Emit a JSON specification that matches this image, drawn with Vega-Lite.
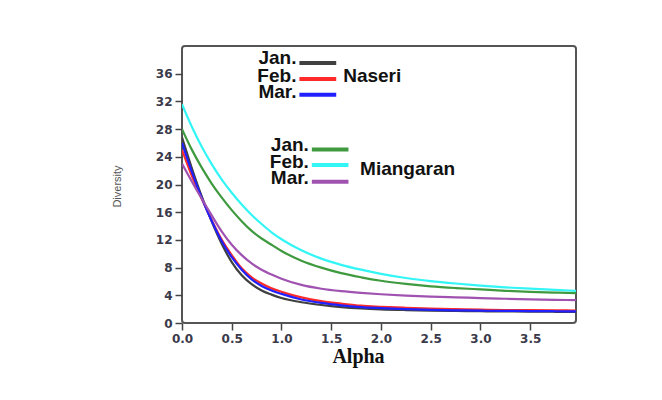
{
  "$schema": "https://vega.github.io/schema/vega-lite/v6.json",
  "width": 394,
  "height": 277,
  "autosize": {"type": "none"},
  "padding": {"left": 182, "top": 46, "right": 86, "bottom": 77},
  "background": "white",
  "config": {
    "view": {"stroke": "#555", "strokeWidth": 2, "cornerRadius": 3},
    "axis": {
      "domain": false,
      "grid": false,
      "tickColor": "#444",
      "tickWidth": 1.5,
      "tickSize": 7,
      "labelOverlap": false,
      "labelFlush": false,
      "labelFont": "DejaVu Sans",
      "labelFontWeight": "bold",
      "labelFontSize": 12,
      "labelColor": "#3a3a4a"
    }
  },
  "datasets": {
    "curves": [
      {"series": "N Jan.", "a": 0, "v": 26.8}, {"series": "N Jan.", "a": 0.1, "v": 22.3}, {"series": "N Jan.", "a": 0.2, "v": 18.2}, {"series": "N Jan.", "a": 0.3, "v": 14.6}, {"series": "N Jan.", "a": 0.4, "v": 11.4}, {"series": "N Jan.", "a": 0.5, "v": 8.8}, {"series": "N Jan.", "a": 0.6, "v": 6.9}, {"series": "N Jan.", "a": 0.7, "v": 5.6}, {"series": "N Jan.", "a": 0.8, "v": 4.7}, {"series": "N Jan.", "a": 0.9, "v": 4.1}, {"series": "N Jan.", "a": 1.0, "v": 3.6}, {"series": "N Jan.", "a": 1.2, "v": 3.0}, {"series": "N Jan.", "a": 1.4, "v": 2.6}, {"series": "N Jan.", "a": 1.6, "v": 2.3}, {"series": "N Jan.", "a": 1.8, "v": 2.1}, {"series": "N Jan.", "a": 2.0, "v": 1.97}, {"series": "N Jan.", "a": 2.25, "v": 1.87}, {"series": "N Jan.", "a": 2.5, "v": 1.8}, {"series": "N Jan.", "a": 2.75, "v": 1.75}, {"series": "N Jan.", "a": 3.0, "v": 1.7}, {"series": "N Jan.", "a": 3.25, "v": 1.67}, {"series": "N Jan.", "a": 3.5, "v": 1.64}, {"series": "N Jan.", "a": 3.75, "v": 1.62}, {"series": "N Jan.", "a": 3.96, "v": 1.6},
      {"series": "N Feb.", "a": 0, "v": 25.0}, {"series": "N Feb.", "a": 0.1, "v": 21.2}, {"series": "N Feb.", "a": 0.2, "v": 17.9}, {"series": "N Feb.", "a": 0.3, "v": 14.8}, {"series": "N Feb.", "a": 0.4, "v": 12.0}, {"series": "N Feb.", "a": 0.5, "v": 9.8}, {"series": "N Feb.", "a": 0.6, "v": 7.9}, {"series": "N Feb.", "a": 0.7, "v": 6.6}, {"series": "N Feb.", "a": 0.8, "v": 5.7}, {"series": "N Feb.", "a": 0.9, "v": 5.0}, {"series": "N Feb.", "a": 1.0, "v": 4.5}, {"series": "N Feb.", "a": 1.2, "v": 3.7}, {"series": "N Feb.", "a": 1.4, "v": 3.15}, {"series": "N Feb.", "a": 1.6, "v": 2.8}, {"series": "N Feb.", "a": 1.8, "v": 2.5}, {"series": "N Feb.", "a": 2.0, "v": 2.35}, {"series": "N Feb.", "a": 2.25, "v": 2.2}, {"series": "N Feb.", "a": 2.5, "v": 2.08}, {"series": "N Feb.", "a": 2.75, "v": 2.0}, {"series": "N Feb.", "a": 3.0, "v": 1.93}, {"series": "N Feb.", "a": 3.25, "v": 1.88}, {"series": "N Feb.", "a": 3.5, "v": 1.85}, {"series": "N Feb.", "a": 3.75, "v": 1.82}, {"series": "N Feb.", "a": 3.96, "v": 1.8},
      {"series": "N Mar.", "a": 0, "v": 26.0}, {"series": "N Mar.", "a": 0.1, "v": 21.8}, {"series": "N Mar.", "a": 0.2, "v": 18.0}, {"series": "N Mar.", "a": 0.3, "v": 14.7}, {"series": "N Mar.", "a": 0.4, "v": 11.8}, {"series": "N Mar.", "a": 0.5, "v": 9.5}, {"series": "N Mar.", "a": 0.6, "v": 7.7}, {"series": "N Mar.", "a": 0.7, "v": 6.3}, {"series": "N Mar.", "a": 0.8, "v": 5.35}, {"series": "N Mar.", "a": 0.9, "v": 4.7}, {"series": "N Mar.", "a": 1.0, "v": 4.2}, {"series": "N Mar.", "a": 1.2, "v": 3.4}, {"series": "N Mar.", "a": 1.4, "v": 2.9}, {"series": "N Mar.", "a": 1.6, "v": 2.55}, {"series": "N Mar.", "a": 1.8, "v": 2.3}, {"series": "N Mar.", "a": 2.0, "v": 2.15}, {"series": "N Mar.", "a": 2.25, "v": 2.0}, {"series": "N Mar.", "a": 2.5, "v": 1.9}, {"series": "N Mar.", "a": 2.75, "v": 1.83}, {"series": "N Mar.", "a": 3.0, "v": 1.78}, {"series": "N Mar.", "a": 3.25, "v": 1.75}, {"series": "N Mar.", "a": 3.5, "v": 1.72}, {"series": "N Mar.", "a": 3.75, "v": 1.7}, {"series": "N Mar.", "a": 3.96, "v": 1.68},
      {"series": "M Jan.", "a": 0, "v": 28.0}, {"series": "M Jan.", "a": 0.1, "v": 25.0}, {"series": "M Jan.", "a": 0.2, "v": 22.4}, {"series": "M Jan.", "a": 0.3, "v": 20.1}, {"series": "M Jan.", "a": 0.4, "v": 18.1}, {"series": "M Jan.", "a": 0.5, "v": 16.3}, {"series": "M Jan.", "a": 0.6, "v": 14.7}, {"series": "M Jan.", "a": 0.7, "v": 13.3}, {"series": "M Jan.", "a": 0.8, "v": 12.2}, {"series": "M Jan.", "a": 0.9, "v": 11.3}, {"series": "M Jan.", "a": 1.0, "v": 10.4}, {"series": "M Jan.", "a": 1.2, "v": 9.0}, {"series": "M Jan.", "a": 1.4, "v": 8.0}, {"series": "M Jan.", "a": 1.6, "v": 7.2}, {"series": "M Jan.", "a": 1.8, "v": 6.6}, {"series": "M Jan.", "a": 2.0, "v": 6.1}, {"series": "M Jan.", "a": 2.25, "v": 5.65}, {"series": "M Jan.", "a": 2.5, "v": 5.3}, {"series": "M Jan.", "a": 2.75, "v": 5.05}, {"series": "M Jan.", "a": 3.0, "v": 4.85}, {"series": "M Jan.", "a": 3.25, "v": 4.65}, {"series": "M Jan.", "a": 3.5, "v": 4.5}, {"series": "M Jan.", "a": 3.75, "v": 4.4}, {"series": "M Jan.", "a": 3.96, "v": 4.3},
      {"series": "M Feb.", "a": 0, "v": 31.6}, {"series": "M Feb.", "a": 0.1, "v": 28.3}, {"series": "M Feb.", "a": 0.2, "v": 25.4}, {"series": "M Feb.", "a": 0.3, "v": 22.9}, {"series": "M Feb.", "a": 0.4, "v": 20.7}, {"series": "M Feb.", "a": 0.5, "v": 18.8}, {"series": "M Feb.", "a": 0.6, "v": 17.1}, {"series": "M Feb.", "a": 0.7, "v": 15.6}, {"series": "M Feb.", "a": 0.8, "v": 14.3}, {"series": "M Feb.", "a": 0.9, "v": 13.1}, {"series": "M Feb.", "a": 1.0, "v": 12.1}, {"series": "M Feb.", "a": 1.2, "v": 10.5}, {"series": "M Feb.", "a": 1.4, "v": 9.3}, {"series": "M Feb.", "a": 1.6, "v": 8.4}, {"series": "M Feb.", "a": 1.8, "v": 7.7}, {"series": "M Feb.", "a": 2.0, "v": 7.1}, {"series": "M Feb.", "a": 2.25, "v": 6.5}, {"series": "M Feb.", "a": 2.5, "v": 6.05}, {"series": "M Feb.", "a": 2.75, "v": 5.7}, {"series": "M Feb.", "a": 3.0, "v": 5.4}, {"series": "M Feb.", "a": 3.25, "v": 5.15}, {"series": "M Feb.", "a": 3.5, "v": 4.95}, {"series": "M Feb.", "a": 3.75, "v": 4.78}, {"series": "M Feb.", "a": 3.96, "v": 4.65},
      {"series": "M Mar.", "a": 0, "v": 23.0}, {"series": "M Mar.", "a": 0.1, "v": 20.4}, {"series": "M Mar.", "a": 0.2, "v": 17.9}, {"series": "M Mar.", "a": 0.3, "v": 15.5}, {"series": "M Mar.", "a": 0.4, "v": 13.2}, {"series": "M Mar.", "a": 0.5, "v": 11.3}, {"series": "M Mar.", "a": 0.6, "v": 9.8}, {"series": "M Mar.", "a": 0.7, "v": 8.6}, {"series": "M Mar.", "a": 0.8, "v": 7.7}, {"series": "M Mar.", "a": 0.9, "v": 7.0}, {"series": "M Mar.", "a": 1.0, "v": 6.4}, {"series": "M Mar.", "a": 1.2, "v": 5.5}, {"series": "M Mar.", "a": 1.4, "v": 4.95}, {"series": "M Mar.", "a": 1.6, "v": 4.6}, {"series": "M Mar.", "a": 1.8, "v": 4.35}, {"series": "M Mar.", "a": 2.0, "v": 4.15}, {"series": "M Mar.", "a": 2.25, "v": 3.95}, {"series": "M Mar.", "a": 2.5, "v": 3.8}, {"series": "M Mar.", "a": 2.75, "v": 3.7}, {"series": "M Mar.", "a": 3.0, "v": 3.6}, {"series": "M Mar.", "a": 3.25, "v": 3.5}, {"series": "M Mar.", "a": 3.5, "v": 3.42}, {"series": "M Mar.", "a": 3.75, "v": 3.35}, {"series": "M Mar.", "a": 3.96, "v": 3.3}
    ],
    "swatches": [
      {"series": "N Jan.", "a": 1.18, "a2": 1.55, "v": 37.55},
      {"series": "N Feb.", "a": 1.18, "a2": 1.55, "v": 35.25},
      {"series": "N Mar.", "a": 1.18, "a2": 1.55, "v": 32.95},
      {"series": "M Jan.", "a": 1.305, "a2": 1.673, "v": 25.07},
      {"series": "M Feb.", "a": 1.305, "a2": 1.673, "v": 22.8},
      {"series": "M Mar.", "a": 1.305, "a2": 1.673, "v": 20.4}
    ],
    "months": [
      {"label": "Jan.", "a": 1.15, "v": 38.2},
      {"label": "Feb.", "a": 1.15, "v": 35.7},
      {"label": "Mar.", "a": 1.15, "v": 33.3},
      {"label": "Jan.", "a": 1.275, "v": 25.7},
      {"label": "Feb.", "a": 1.275, "v": 23.3},
      {"label": "Mar.", "a": 1.275, "v": 20.9}
    ],
    "groups": [
      {"label": "Naseri", "a": 1.62, "v": 35.7},
      {"label": "Miangaran", "a": 1.79, "v": 22.2}
    ]
  },
  "encoding": {
    "x": {
      "field": "a", "type": "quantitative",
      "scale": {"domain": [0, 3.96], "nice": false, "zero": false},
      "axis": {
        "values": [0, 0.5, 1, 1.5, 2, 2.5, 3, 3.5],
        "format": ".1f",
        "labelPadding": 3,
        "title": "Alpha",
        "titleFont": "Liberation Serif",
        "titleFontWeight": "bold",
        "titleFontSize": 20,
        "titleColor": "#111",
        "titleX": 176,
        "titleY": 33,
        "titleAlign": "center",
        "titleBaseline": "middle"
      }
    },
    "y": {
      "field": "v", "type": "quantitative",
      "scale": {"domain": [0, 40], "nice": false},
      "axis": {
        "values": [0, 4, 8, 12, 16, 20, 24, 28, 32, 36],
        "labelPadding": 3,
        "title": "Diversity",
        "titleFont": "Liberation Sans",
        "titleFontWeight": "normal",
        "titleFontSize": 11,
        "titleColor": "#555",
        "titleX": -65,
        "titleY": 140,
        "titleAlign": "center",
        "titleBaseline": "middle"
      }
    }
  },
  "layer": [
    {
      "data": {"name": "curves"},
      "mark": {"type": "line", "interpolate": "monotone", "strokeWidth": 2.2, "clip": true},
      "encoding": {
        "color": {
          "field": "series", "type": "nominal",
          "scale": {
            "domain": ["N Jan.", "N Feb.", "N Mar.", "M Jan.", "M Feb.", "M Mar."],
            "range": ["#404040", "#ff2a2a", "#2020ff", "#3f9a3f", "#33f5f5", "#a052b0"]
          },
          "legend": null
        },
        "detail": {"field": "series"}
      }
    },
    {
      "data": {"name": "swatches"},
      "mark": {"type": "rule", "strokeWidth": 4},
      "encoding": {
        "x2": {"field": "a2"},
        "color": {"field": "series", "type": "nominal", "legend": null}
      }
    },
    {
      "data": {"name": "months"},
      "mark": {"type": "text", "align": "right", "baseline": "middle", "font": "Liberation Sans", "fontWeight": "bold", "fontSize": 19, "color": "#111"},
      "encoding": {
        "text": {"field": "label"}
      }
    },
    {
      "data": {"name": "groups"},
      "mark": {"type": "text", "align": "left", "baseline": "middle", "font": "Liberation Sans", "fontWeight": "bold", "fontSize": 19, "color": "#111"},
      "encoding": {
        "text": {"field": "label"}
      }
    }
  ]
}
